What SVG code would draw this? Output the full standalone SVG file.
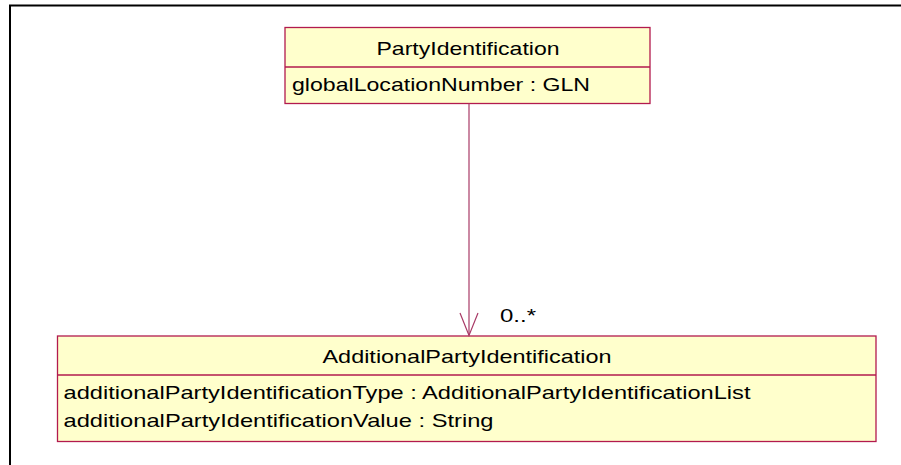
<svg xmlns="http://www.w3.org/2000/svg" width="901" height="465" viewBox="0 0 901 465">
<style>
.box{fill:#ffffcc;stroke:#b21a4e;stroke-width:1.3}
.sep{stroke:#b21a4e;stroke-width:1.3}
text{font-family:"Liberation Sans",Arial,sans-serif;font-size:19px;fill:#000}
.conn{stroke:#a83a66;stroke-width:1.2;fill:none}
</style>
<rect x="0" y="0" width="901" height="465" fill="#fff"/>
<path d="M10 465 V5.5 H901" fill="none" stroke="#000" stroke-width="2"/>
<g id="PartyIdentification">
<rect class="box" x="285" y="27.5" width="365" height="76"/>
<line class="sep" x1="285" y1="67" x2="650" y2="67"/>
<text x="376.5" y="55" textLength="183" lengthAdjust="spacingAndGlyphs">PartyIdentification</text>
<text x="292" y="91" textLength="298" lengthAdjust="spacingAndGlyphs">globalLocationNumber : GLN</text>
</g>
<g id="AdditionalPartyIdentification">
<rect class="box" x="57.5" y="336" width="818.5" height="105.5"/>
<line class="sep" x1="57.5" y1="375" x2="876" y2="375"/>
<text x="322.5" y="362.5" textLength="289" lengthAdjust="spacingAndGlyphs">AdditionalPartyIdentification</text>
<text x="63.5" y="399" textLength="687" lengthAdjust="spacingAndGlyphs">additionalPartyIdentificationType : AdditionalPartyIdentificationList</text>
<text x="63.5" y="427" textLength="430" lengthAdjust="spacingAndGlyphs">additionalPartyIdentificationValue : String</text>
</g>
<g id="connectors">
<line class="conn" x1="469" y1="103.5" x2="469" y2="335.5"/>
<polyline class="conn" points="460,313 469,335.5 478,313"/>
<text x="500" y="322" textLength="36" lengthAdjust="spacingAndGlyphs">0..*</text>
</g>
</svg>
